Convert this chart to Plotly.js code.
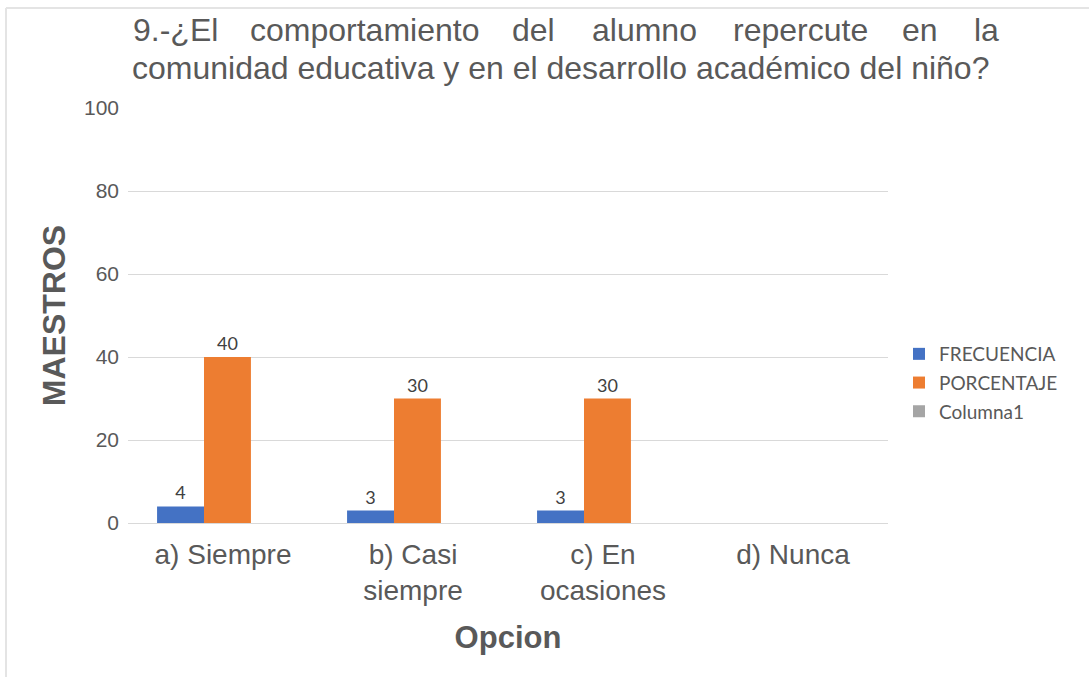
<!DOCTYPE html>
<html>
<head>
<meta charset="utf-8">
<script src="https://cdn.plot.ly/plotly-3.0.1.min.js"></script>
<style>html,body{margin:0;padding:0;background:#fff;}#chart{width:1089px;height:677px;}</style>
</head>
<body>
<div id="chart"></div>
<script>
const categories = ["a) Siempre", "b) Casi<br>siempre", "c) En<br>ocasiones", "d) Nunca"];
const frecuencia = [4, 3, 3, null];
const porcentaje = [40, 30, 30, null];
const columna1 = [null, null, null, null];
const seriesNames = ["FRECUENCIA", "PORCENTAJE", "Columna1"];
const yTicks = [0, 20, 40, 60, 80, 100];
const titleLine1Words = ["9.-¿El", "comportamiento", "del", "alumno", "repercute", "en", "la"];
const titleLine2 = "comunidad educativa y en el desarrollo académico del niño?";
const yTitle = "MAESTROS";
const xTitle = "Opcion";

const W = 1089, H = 677;
const M = {l: 128, r: 201, t: 108, b: 154};
const px2x = p => (p - M.l) / (W - M.l - M.r);
const px2y = p => (H - M.b - p) / (H - M.t - M.b);

const textCol = "#595959";
const labelFont = {family: "Lato, 'Open Sans', sans-serif", size: 18, color: "#404040"};

// bar width / offsets as fraction of a category
const barW = 0.247;
const offsets = [-0.347, -0.1, 0.147];

function barTrace(i, y, color) {
  return {
    type: "bar", name: seriesNames[i], x: categories, y: y,
    legendgroup: "g" + i,
    width: barW, offset: offsets[i],
    marker: {color: color},
    text: y.map(v => v == null ? "" : String(v)),
    textposition: "outside", cliponaxis: false,
    textfont: labelFont, hoverinfo: "x+y+name"
  };
}

const traces = [
  barTrace(0, frecuencia, "#4472C4"),
  barTrace(1, porcentaje, "#ED7D31"),
  barTrace(2, columna1, "#A5A5A5")
];

// first title line: justified word placement
const wordCenters = [175, 364, 533, 644, 800, 920, 986];
const titleFont = {family: "'Liberation Sans', Arial, sans-serif", size: 32, color: textCol};
const annotations = titleLine1Words.map((w, i) => ({
  text: w, xref: "paper", yref: "paper", x: px2x(wordCenters[i]), y: px2y(30),
  xanchor: "center", yanchor: "middle", showarrow: false, font: titleFont
}));
annotations.push({
  text: titleLine2, xref: "paper", yref: "paper", x: px2x(130), y: px2y(68),
  xanchor: "left", yanchor: "middle", showarrow: false, font: titleFont
});

const layout = {
  width: W, height: H, margin: M,
  paper_bgcolor: "#ffffff", plot_bgcolor: "#ffffff",
  barmode: "group", bargap: 0.26, bargroupgap: 0,
  showlegend: true,
  legend: {
    x: px2x(899), y: px2y(335), xanchor: "left", yanchor: "top",
    font: {family: "Lato, 'Open Sans', sans-serif", size: 19, color: textCol},
    itemwidth: 30, tracegroupgap: 1, traceorder: "grouped"
  },
  xaxis: {
    type: "category", showgrid: false, zeroline: false, showline: false,
    tickfont: {family: "'Liberation Sans', Arial, sans-serif", size: 28, color: textCol},
    ticks: "", automargin: false, ticklabelstandoff: 12,
    title: {text: xTitle, font: {family: "'Liberation Sans', Arial, sans-serif", size: 31, color: textCol, weight: "bold"}, standoff: 20}
  },
  yaxis: {
    range: [0, 100], tickvals: yTicks, showgrid: true, gridcolor: "#d9d9d9", gridwidth: 1,
    zeroline: true, zerolinecolor: "#d9d9d9", zerolinewidth: 1, showline: false,
    tickfont: {family: "'Liberation Sans', Arial, sans-serif", size: 21, color: textCol},
    ticklabelstandoff: 8, automargin: false,
    title: {text: yTitle, font: {family: "'Liberation Sans', Arial, sans-serif", size: 32, color: textCol, weight: "bold"}, standoff: 8}
  },
  annotations: annotations,
  shapes: [
    {type: "line", xref: "paper", yref: "paper", x0: px2x(6), x1: px2x(6), y0: px2y(8), y1: px2y(677), line: {color: "#e4e4e4", width: 2}},
    {type: "line", xref: "paper", yref: "paper", x0: px2x(6), x1: px2x(1089), y0: px2y(8), y1: px2y(8), line: {color: "#e4e4e4", width: 2}}
  ]
};

Plotly.newPlot("chart", traces, layout, {displayModeBar: false, staticPlot: true});
</script>
</body>
</html>
